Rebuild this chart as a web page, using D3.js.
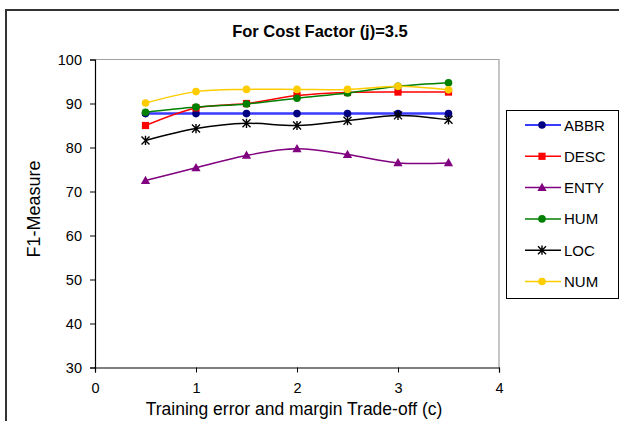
<!DOCTYPE html>
<html>
<head>
<meta charset="utf-8">
<script src="https://cdn.jsdelivr.net/npm/d3@7"></script>
<style>
  html, body { margin: 0; padding: 0; background: #fff; }
  svg { display: block; font-family: "Liberation Sans", Arial, sans-serif; }
</style>
</head>
<body>
<svg id="chart" width="619" height="421"></svg>
<script>
// Training error / margin trade-off values (c)
const cValues = [0.5, 1, 1.5, 2, 2.5, 3, 3.5];

// F1-measure per question class
const abbr = [87.7, 87.7, 87.7, 87.7, 87.7, 87.7, 87.7];
const desc = [85.0, 89.0, 90.0, 91.8, 92.5, 92.6, 92.6];
const enty = [72.5, 75.4, 78.2, 79.7, 78.4, 76.5, 76.5];
const hum  = [88.0, 89.2, 89.9, 91.2, 92.4, 93.9, 94.7];
const loc  = [81.6, 84.3, 85.5, 85.0, 86.1, 87.3, 86.3];
const num  = [90.1, 92.7, 93.2, 93.2, 93.2, 93.9, 93.1];

const seriesNames = ["ABBR", "DESC", "ENTY", "HUM", "LOC", "NUM"];
const xTicks = [0, 1, 2, 3, 4];
const yTicks = [30, 40, 50, 60, 70, 80, 90, 100];

const series = [
  { name: "ABBR", values: abbr, line: "#3a3aff", mark: "#000080", shape: "circle",   width: 2.5 },
  { name: "DESC", values: desc, line: "#ff0000", mark: "#ff0000", shape: "square",   width: 1.5 },
  { name: "ENTY", values: enty, line: "#800080", mark: "#800080", shape: "triangle", width: 1.5 },
  { name: "HUM",  values: hum,  line: "#008000", mark: "#008000", shape: "circle",   width: 1.5 },
  { name: "LOC",  values: loc,  line: "#000000", mark: "#000000", shape: "star",     width: 1.5 },
  { name: "NUM",  values: num,  line: "#ffcc00", mark: "#ffcc00", shape: "circle",   width: 1.5 }
];

const svg = d3.select("#chart");

// Outer chart frame (extends past the window)
svg.append("rect")
  .attr("x", 6).attr("y", 10)
  .attr("width", 700).attr("height", 500)
  .attr("fill", "none").attr("stroke", "#333").attr("stroke-width", 2);

const plot = { left: 95, right: 499, top: 59.5, bottom: 367.5 };

const x = d3.scaleLinear().domain([0, 4]).range([plot.left, plot.right]);
const y = d3.scaleLinear().domain([30, 100]).range([plot.bottom, plot.top]);

// Plot area border (top and right)
svg.append("path")
  .attr("d", `M${plot.left},${plot.top}H${plot.right}V${plot.bottom}`)
  .attr("fill", "none").attr("stroke", "#a0a0a0").attr("stroke-width", 1.2);

// Title
svg.append("text")
  .attr("x", 320).attr("y", 37)
  .attr("text-anchor", "middle")
  .attr("font-weight", "bold").attr("font-size", 16.5)
  .text("For Cost Factor (j)=3.5");

// Axes
const xAxis = svg.append("g")
  .attr("transform", `translate(0,${plot.bottom})`)
  .call(d3.axisBottom(x).tickValues(xTicks).tickFormat(d3.format("d")).tickSizeOuter(0).tickSize(5).tickPadding(10));
const yAxis = svg.append("g")
  .attr("transform", `translate(${plot.left},0)`)
  .call(d3.axisLeft(y).tickValues(yTicks).tickFormat(d3.format("d")).tickSizeOuter(0).tickSize(5).tickPadding(8));

[xAxis, yAxis].forEach(g => {
  g.select(".domain").attr("stroke", "#000").attr("stroke-width", 1.2);
  g.selectAll(".tick line").attr("stroke", "#000");
  g.selectAll(".tick text").attr("font-size", 14.5).attr("fill", "#000")
    .attr("font-family", "Liberation Sans, Arial, sans-serif");
});

// Axis titles
svg.append("text")
  .attr("x", 294).attr("y", 415)
  .attr("text-anchor", "middle").attr("font-size", 17.5)
  .text("Training error and margin Trade-off (c)");
svg.append("text")
  .attr("transform", "translate(40,209) rotate(-90)")
  .attr("text-anchor", "middle").attr("font-size", 18)
  .text("F1-Measure");

// Marker drawing
function drawMarker(g, s, cx, cy) {
  if (s.shape === "circle") {
    g.append("circle").attr("cx", cx).attr("cy", cy).attr("r", 3.8).attr("fill", s.mark);
  } else if (s.shape === "square") {
    g.append("rect").attr("x", cx - 3.6).attr("y", cy - 3.6).attr("width", 7.2).attr("height", 7.2).attr("fill", s.mark);
  } else if (s.shape === "triangle") {
    g.append("path").attr("d", `M${cx},${cy - 4.8}L${cx + 4.6},${cy + 3.4}L${cx - 4.6},${cy + 3.4}Z`).attr("fill", s.mark);
  } else if (s.shape === "star") {
    const r = 4;
    g.append("path")
      .attr("d", `M${cx - r},${cy - r}L${cx + r},${cy + r}M${cx - r},${cy + r}L${cx + r},${cy - r}M${cx},${cy - r - 0.6}V${cy + r + 0.6}`)
      .attr("stroke", s.mark).attr("stroke-width", 1.4).attr("fill", "none");
  }
}

const line = d3.line()
  .x(d => x(d[0]))
  .y(d => y(d[1]))
  .curve(d3.curveCatmullRom.alpha(0.5));

series.forEach(s => {
  const pts = cValues.map((c, i) => [c, s.values[i]]);
  const g = svg.append("g");
  g.append("path").attr("d", line(pts))
    .attr("fill", "none").attr("stroke", s.line).attr("stroke-width", s.width);
  pts.forEach(p => drawMarker(g, s, x(p[0]), y(p[1])));
});

// Legend
const legend = svg.append("g");
legend.append("rect")
  .attr("x", 506.5).attr("y", 110.5).attr("width", 112).attr("height", 188)
  .attr("fill", "#fff").attr("stroke", "#000").attr("stroke-width", 1);
const legendY = d3.scalePoint().domain(seriesNames).range([125, 281.5]);
series.forEach(s => {
  const ly = legendY(s.name);
  const lg = legend.append("g");
  lg.append("line").attr("x1", 525).attr("x2", 561).attr("y1", ly).attr("y2", ly)
    .attr("stroke", s.line).attr("stroke-width", s.width === 2.5 ? 1.8 : 1.5);
  drawMarker(lg, s, 542, ly);
  lg.append("text").attr("x", 564).attr("y", ly + 5.5)
    .attr("font-size", 15).text(s.name);
});
</script>
</body>
</html>
